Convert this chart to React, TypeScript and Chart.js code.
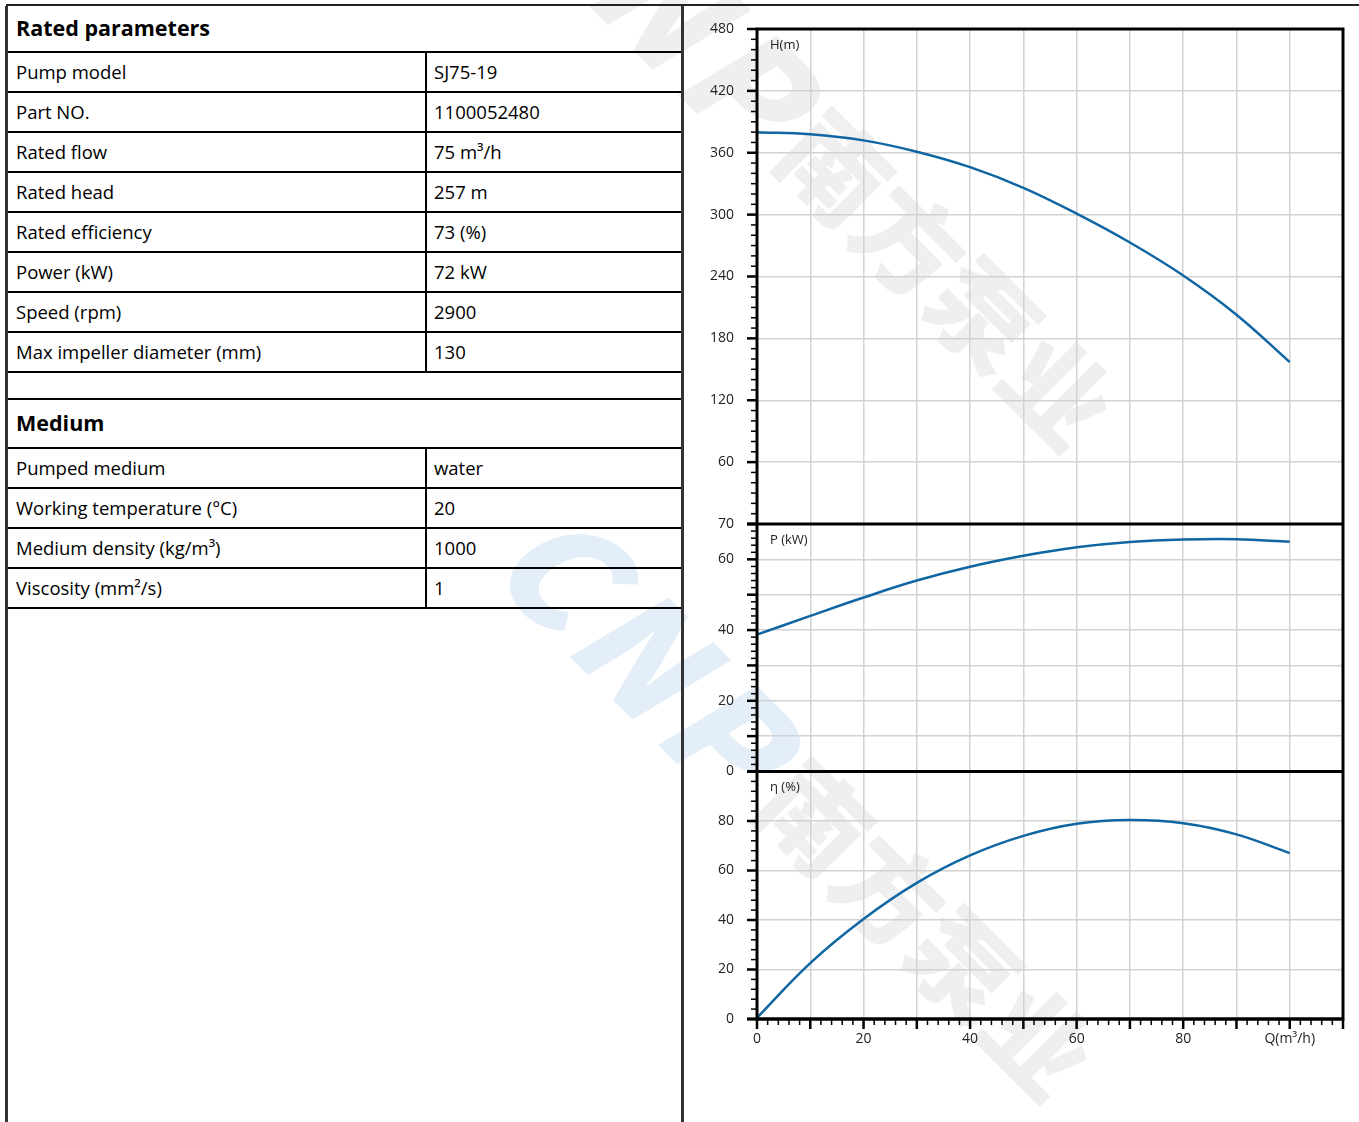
import React, { useEffect, useRef } from "react";
import { Chart, registerables } from "chart.js";

Chart.register(...registerables);

// ---------- table data ----------
const ratedLabels = [
  "Pump model",
  "Part NO.",
  "Rated flow",
  "Rated head",
  "Rated efficiency",
  "Power (kW)",
  "Speed (rpm)",
  "Max impeller diameter (mm)",
];
const ratedValues = ["SJ75-19", "1100052480", "75 m³/h", "257 m", "73 (%)", "72 kW", "2900", "130"];
const mediumLabels = ["Pumped medium", "Working temperature (°C)", "Medium density (kg/m³)", "Viscosity (mm²/s)"];
const mediumValues = ["water", "20", "1000", "1"];

// ---------- curve data ----------
const flowQ = [0, 10, 20, 30, 40, 50, 60, 70, 80, 90, 100];
const headH = [380, 378, 372, 361, 346, 326, 301, 273, 241, 203, 157];
const powerP = [38.7, 44.0, 49.2, 54.0, 57.9, 61.0, 63.4, 64.9, 65.6, 65.7, 65.0];
const effE = [0.5, 22.6, 40.4, 55.0, 66.1, 74.0, 78.9, 80.4, 79.1, 74.6, 67.0];

// axis ranges / ticks
const xMax = 110;
const hMax = 480;
const pMax = 70;
const eMax = 100;
const xLabelQ = "Q(m³/h)";

// watermark text
const wmLogo = "CNP";
const wmName = "南方泵业";

const CURVE = "#0f66a2";
const GRID = "#d2d2d2";
const FONT = '"Open Sans", "DejaVu Sans", sans-serif';

const framePlugin = {
  id: "framePlugin",
  afterDraw(chart: any) {
    const { ctx, chartArea } = chart;
    const sx = chart.scales.x;
    const defs = [
      { s: chart.scales.yH, minor: 10, major: 60, title: "H(m)" },
      { s: chart.scales.yP, minor: 2, major: 10, title: "P (kW)" },
      { s: chart.scales.yE, minor: 4, major: 20, title: "η (%)" },
    ];
    ctx.save();
    ctx.strokeStyle = "#000";
    // y tick marks
    defs.forEach((d) => {
      const n = Math.round((d.s.max - d.s.min) / d.minor);
      for (let i = 0; i <= n; i++) {
        const v = d.s.min + i * d.minor;
        const y = d.s.getPixelForValue(v);
        const isMajor = Math.abs(v % d.major) < 1e-6 || v === d.s.max;
        ctx.lineWidth = isMajor ? 2.5 : 1.5;
        ctx.beginPath();
        ctx.moveTo(chartArea.left, y);
        ctx.lineTo(chartArea.left - (isMajor ? 10 : 6), y);
        ctx.stroke();
      }
    });
    // x tick marks
    const nx = Math.round((sx.max - sx.min) / 2);
    for (let i = 0; i <= nx; i++) {
      const v = sx.min + i * 2;
      const x = sx.getPixelForValue(v);
      const isMajor = v % 10 === 0;
      ctx.lineWidth = isMajor ? 2.5 : 1.5;
      ctx.beginPath();
      ctx.moveTo(x, chartArea.bottom);
      ctx.lineTo(x, chartArea.bottom + (isMajor ? 10 : 6));
      ctx.stroke();
    }
    // frame and separators
    ctx.lineWidth = 3;
    ctx.strokeRect(chartArea.left, chartArea.top, chartArea.right - chartArea.left, chartArea.bottom - chartArea.top);
    defs.forEach((d) => {
      ctx.beginPath();
      ctx.moveTo(chartArea.left - 10, d.s.bottom);
      ctx.lineTo(chartArea.right, d.s.bottom);
      ctx.stroke();
    });
    // titles
    ctx.fillStyle = "#222";
    ctx.font = `13px ${FONT}`;
    ctx.textBaseline = "middle";
    ctx.textAlign = "left";
    defs.forEach((d) => {
      ctx.fillText(d.title, chartArea.left + 13, d.s.top + 16);
    });
    ctx.restore();
  },
};

function PumpChart() {
  const ref = useRef<HTMLCanvasElement | null>(null);
  useEffect(() => {
    if (!ref.current) return;
    const mk = (arr: number[]) => flowQ.map((q, i) => ({ x: q, y: arr[i] }));
    const ds = (data: any, yAxisID: string) => ({
      data,
      yAxisID,
      xAxisID: "x",
      borderColor: CURVE,
      borderWidth: 2.5,
      pointRadius: 0,
      tension: 0.4,
      fill: false,
    });
    const yCommon = (max: number, step: number, show: (v: number) => string, weight: number) => ({
      type: "linear" as const,
      position: "left" as const,
      stack: "pump",
      stackWeight: weight,
      min: 0,
      max,
      border: { display: false },
      grid: { color: GRID, lineWidth: 1.5, drawTicks: false },
      ticks: {
        stepSize: step,
        autoSkip: false,
        padding: 23,
        color: "#222",
        font: { family: FONT, size: 14 },
        callback: (v: any) => show(Number(v)),
      },
      afterFit: (s: any) => {
        s.width = 72;
        s.paddingTop = 0;
        s.paddingBottom = 0;
      },
    });
    const chart = new Chart(ref.current, {
      type: "line",
      data: {
        datasets: [ds(mk(headH), "yH"), ds(mk(powerP), "yP"), ds(mk(effE), "yE")],
      },
      options: {
        animation: false,
        responsive: false,
        layout: { padding: { left: 0, right: 16, top: 23, bottom: 63 } },
        plugins: { legend: { display: false }, tooltip: { enabled: false } },
        scales: {
          x: {
            type: "linear",
            position: "bottom",
            min: 0,
            max: xMax,
            border: { display: false },
            grid: { color: GRID, lineWidth: 1.5, drawTicks: false },
            ticks: {
              stepSize: 10,
              autoSkip: false,
              maxRotation: 0,
              padding: 12,
              color: "#222",
              font: { family: FONT, size: 14 },
              callback: (v: any) => {
                const n = Number(v);
                if (n === 100) return xLabelQ;
                if (n % 20 === 0 && n < 100) return String(n);
                return "";
              },
            },
            afterFit: (s: any) => {
              s.height = 40;
              s.paddingLeft = 0;
              s.paddingRight = 0;
            },
          },
          yE: yCommon(eMax, 20, (v) => (v === eMax ? "" : String(v)), 1),
          yP: yCommon(pMax, 10, (v) => (v % 20 === 0 || v === pMax ? String(v) : ""), 1),
          yH: yCommon(hMax, 60, (v) => (v === 0 ? "" : String(v)), 2),
        } as any,
      },
      plugins: [framePlugin],
    });
    return () => chart.destroy();
  }, []);
  return <canvas ref={ref} width={674} height={1116} style={{ width: 674, height: 1116, display: "block" }} />;
}

const cellText: React.CSSProperties = {
  fontFamily: FONT,
  fontSize: 18.5,
  color: "#000",
  display: "flex",
  alignItems: "center",
  whiteSpace: "nowrap",
};

function Row({ label, value }: { label: string; value: string }) {
  return (
    <div style={{ display: "flex", height: 38, borderBottom: "2px solid #000" }}>
      <div style={{ ...cellText, width: 409, paddingLeft: 8, paddingBottom: 2, borderRight: "2px solid #000" }}>
        {label}
      </div>
      <div style={{ ...cellText, paddingLeft: 7, paddingBottom: 2 }}>{value}</div>
    </div>
  );
}

function Header({ text, h }: { text: string; h: number }) {
  return (
    <div
      style={{
        ...cellText,
        height: h,
        borderBottom: "2px solid #000",
        paddingLeft: 8,
        paddingBottom: 2,
        boxSizing: "border-box",
        fontSize: 21.5,
        fontWeight: 700,
      }}
    >
      {text}
    </div>
  );
}

function Watermark({ x, y, logoColor }: { x: number; y: number; logoColor: string }) {
  return (
    <div
      style={{
        position: "absolute",
        left: x,
        top: y - 75,
        height: 150,
        display: "flex",
        alignItems: "center",
        whiteSpace: "nowrap",
        transform: "rotate(45deg)",
        transformOrigin: "0 50%",
        lineHeight: 1,
        fontFamily: '"Noto Sans CJK SC", sans-serif',
        fontWeight: 900,
        pointerEvents: "none",
      }}
    >
      <span style={{ color: logoColor, fontSize: 150, letterSpacing: 10, fontStyle: "italic" }}>{wmLogo}</span>
      <span style={{ color: "#efefef", fontSize: 105, marginLeft: 10 }}>{wmName}</span>
    </div>
  );
}

export default function App() {
  return (
    <div style={{ position: "relative", width: 1359, height: 1122, overflow: "hidden", background: "#fff" }}>
      <style>{`body{margin:0}`}</style>
      <Watermark x={549} y={-126} logoColor="#efefef" />
      <Watermark x={529} y={524} logoColor="#e3eef8" />
      <div style={{ position: "absolute", left: 6, top: 4, width: 1353, height: 2, background: "#222" }} />
      <div
        style={{
          position: "absolute",
          left: 5,
          top: 6,
          width: 673,
          bottom: 0,
          borderLeft: "3px solid #333",
          borderRight: "3px solid #333",
        }}
      >
        <Header text="Rated parameters" h={47} />
        {ratedLabels.map((l, i) => (
          <Row key={l} label={l} value={ratedValues[i]} />
        ))}
        <div style={{ height: 25, borderBottom: "2px solid #000" }} />
        <Header text="Medium" h={49} />
        {mediumLabels.map((l, i) => (
          <Row key={l} label={l} value={mediumValues[i]} />
        ))}
      </div>
      <div style={{ position: "absolute", left: 685, top: 6 }}>
        <PumpChart />
      </div>
    </div>
  );
}
